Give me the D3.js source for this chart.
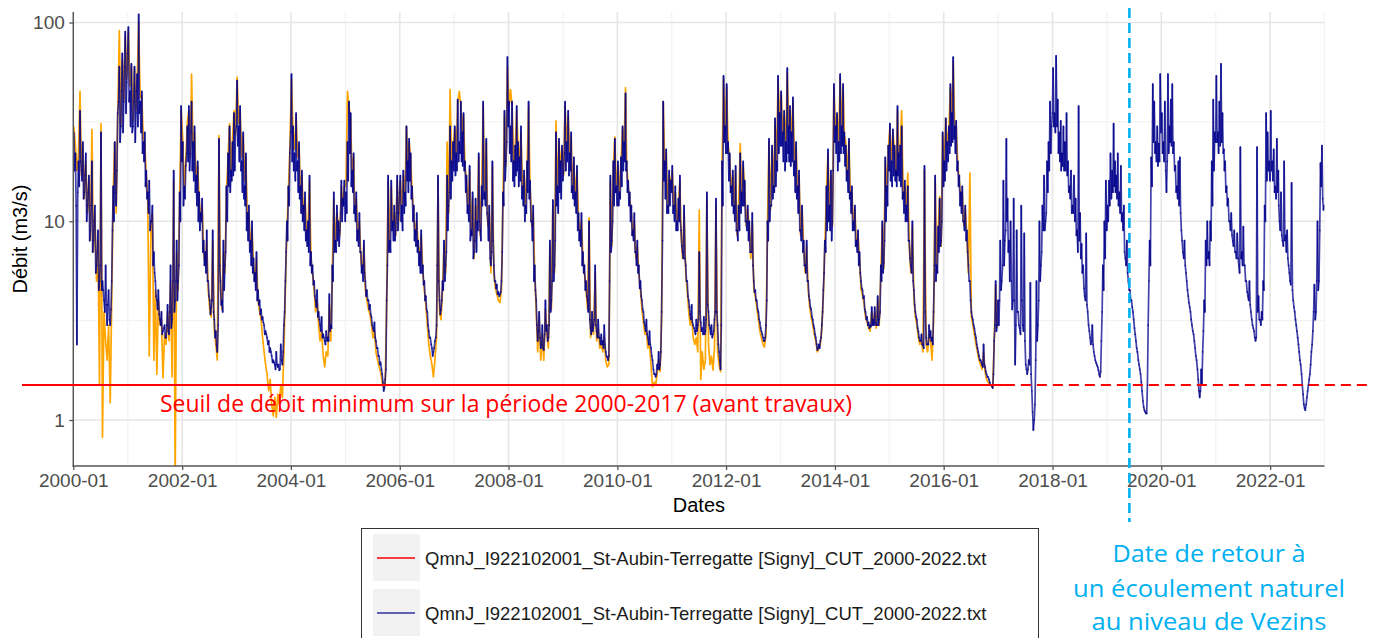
<!DOCTYPE html>
<html>
<head>
<meta charset="utf-8">
<script src="https://cdn.jsdelivr.net/npm/d3@7"></script>
<style>
  body { margin: 0; background: #fff; }
  svg { display: block; }
</style>
</head>
<body>
<svg id="chart" width="1378" height="638"></svg>
<script>
// Débits journaliers relevés trois fois par mois (jours 5, 15, 25), m3/s
const anneeDebut = 2000;

// Série 1 (2000-2016), tracée en orange
const serie1 = [
  [30,24,18,22,45,17,24,13,20,11,16,8,29,7,11,5,8,1.5,31,0.82,3.5,2.5,2,3,1.22,4,14,25,11,33,91,30,65,40,85,52],
  [90,48,60,32,58,36,52,100,42,43,26,25,17,13,2.1,9,11,2,4.5,1.7,4,3,3.2,1.63,2.7,2.4,3.5,2.5,5,1.65,16,0.5,7,4.5,13,36],
  [26,14,20,32,36,21,55,24,28,16,19,13,10,12,7,6,8,4.5,3.6,3.3,8,2.8,2.4,2.0,27,4.5,3.6,7,5.5,14,21,31,17,26,36,27],
  [53,31,36,21,27,16,21,10,11,7.5,9,6,5,6.5,4,3.5,3.2,2.6,2.2,1.9,1.7,1.4,1.6,1.2,1.05,1.3,1.03,1.35,1.2,1.5,1.3,2.2,4.5,9,14,23],
  [52,29,23,34,21,24,14,17,11,13,8.5,9.5,16,6.5,5.5,4.5,3.5,4,3,2.5,2.8,2.1,1.85,2.2,2.1,3.8,2.5,5.5,13,7.5,11,9.5,8.5,15,12,15],
  [15,45,38,33,17,21,11,13,8.5,10,6.5,5.5,7.5,4.5,4,3.6,3.4,3,2.6,2.8,2.2,2,1.85,1.75,1.55,1.47,1.5,3.8,16,7.5,15,9.5,11,8.5,16,10],
  [16,11.5,17,13,30,19,25,21,14,11,8.5,10,7.5,6.5,8.5,5.5,4.5,3.8,3,2.4,2.1,1.9,1.65,2,2.6,16,3.5,3.2,4.5,7.5,5.5,25,11,46,19,24],
  [29,21,40,45,38,27,34,19,16,11.5,18,8.5,13,6.5,12,9.5,21,8.5,14,38,13,25,9.5,11,5.5,19,5.5,4.6,4.3,4,3.9,4.6,13,34,19,60],
  [38,46,38,19,23,36,24,20,28,14,17,11.5,19,38,15,9.5,11,5.5,3.6,2.2,3.2,2.0,2.7,2.0,3.6,2.7,2.3,7.5,3.6,12,5.5,32,14,25,19,23],
  [17,38,24,34,21,27,14,20,13,18,10.5,8.5,10,6.5,5.5,4.5,3.6,10.4,2.6,3.2,2.7,5.5,2.5,2.9,2.3,2.4,2.2,2.6,2,1.85,1.9,16,7.5,19,26.6,14],
  [19,13,20,29,24,47,19,15,13,11,8.5,10,6.5,7.5,5.5,4.5,3.6,3.1,2.7,2.8,2.3,2.4,1.9,1.47,1.55,1.5,1.7,2,1.75,3.2,40,19,22,11.5,17,15],
  [18,11.5,14,9.5,12,16,8.5,6.5,11,5.5,4.5,3.5,3,3.3,2.6,2.4,2.6,2.2,11.4,1.6,2.2,1.8,2,13,2.4,1.9,2.1,1.78,2.3,12,2.2,1.9,1.75,19,52,29],
  [47,24,21,14,17,11.5,18,8.5,11.5,24.6,13,19,15,9.5,11.5,9.5,6.5,10,4.6,4.2,3.7,3.2,2.8,2.6,2.4,2.33,2.7,9.5,25,11.5,23,14,31,19,52,33],
  [44,27,34,24,56,29,36,27,40,19,24,14,17,8.5,11.8,7.5,5.5,7.5,4.6,3.7,3.3,3,2.7,2.5,2.2,2.3,2.4,2.9,4.2,7.5,14,22,11.5,17,9.5,47],
  [29,34,24,53,29,47,27,25,17,25,13,14,9.5,11.5,7.5,8.5,6.5,4.6,4.2,3.9,3.3,3.1,2.9,2.8,3.5,3,3.5,2.9,4,3,5.5,9.5,5.8,20,14,23],
  [30,19,28,23,17,36,21,23,36,13,15,11.5,17.5,7.5,5.5,9.5,4.2,3.3,3,2.6,2.4,2.5,2.2,18,2.4,2.2,2.7,2.5,2.0,3.2,16,5.5,9,13.3,7.5,27],
  [19,33,24,29,47,33,64,29,30,19,16,13,14,9.5,11.5,8.5,5.5,17.5,3.3,3,2.7,2.4,2.2,2,1.9,1.8,2.2,1.75,1.6,1.55,1.5,1.5,1.45,2.4,4.8,2.9]
];

// Série 2 (2000-2022), tracée en bleu : relevés des jours 5, 15, 25
const serie2 = [
  [28,22,2.4,20,36,18,25,14,22,12,17,9,20,8,12,6,9,5,28,5,4,6,3,4.5,3,5,15,25,12,35,60,30,70,40,90,50],
  [95,45,62,30,60,35,55,110,40,45,25,28,18,14,16,10,12,7,5,4,4.5,3.2,3.5,2.8,3,2.6,3.8,2.7,6,3.2,18,4,8,5,14,38],
  [25,15,19,30,38,22,40,25,30,17,20,14,11,13,8,7,9,5,4,3.7,9,3.2,2.8,2.2,26,5,4,8,6,15,22,30,18,25,35,28],
  [51,30,38,20,28,15,22,11,12,8,10,6.5,5.5,7,4.5,4,3.6,3.3,3,2.8,2.6,2.5,2.3,2.1,2.0,1.9,2.2,1.85,1.78,2.4,1.9,3,5,10,15,22],
  [55,30,22,35,20,25,15,18,12,14,9,10,17,7,6,5,4,4.5,3.5,3,3.3,2.7,2.5,2.8,2.6,4.3,3,6,14,8,12,10,9,16,13,16],
  [14,25,40,35,18,22,12,14,9,11,7,6,8,5,4.5,4,3.8,3.3,2.9,3.1,2.5,2.3,2.1,1.95,1.7,1.4,1.6,4,17,8,16,10,12,9,17,11],
  [17,12,18,14,30,20,26,22,15,12,9,11,8,7,9,6,5,4.2,3.5,2.8,2.6,2.3,2.2,2.5,3,17,4,3.6,5,8,6,17,12,30,20,25],
  [30,22,41,25,40,28,35,20,17,12,19,9,14,7,13,10,22,9,15,40,14,26,10,12,6,20,6,5,4.8,4.4,4.3,5,14,36,20,67],
  [40,30,40,20,24,38,25,21,30,15,18,12,20,40,16,10,12,6,4,2.5,3.5,2.3,3,2.25,4,3,2.6,8,4,12.8,6,28,15,26,20,24],
  [18,40,25,36,22,28,15,21,14,19,11,9,11,7,6,5,4,10,2.9,3.5,3,6,2.8,3.2,2.6,2.7,2.5,3,2.2,2.07,2.1,17,8,20,26,15],
  [20,14,21,30,25,44,20,16,14,12,9,11,7,8,6,5,4,3.5,3,3.2,2.6,2.8,2.3,2,1.7,1.65,1.9,2.2,1.9,3.5,40,20,23,12,18,16],
  [19,12,15,10,13,17,9,7,12,6,5,4,3.4,3.8,3,2.8,3.2,3,7,3.1,2.9,3.3,2.8,14,3.5,2.9,3,2.7,3.2,13,3,2.2,1.8,20,54,30],
  [49,25,22,15,18,12,19,9,12,22,14,20,16,10,12,10,7,11,5,4.5,4,3.5,3.1,2.8,2.6,2.5,3,10,26,12,24,15,33,20,54,35],
  [45,28,36,25,59,30,38,28,42,20,25,15,18,9,12,8,6,8,5,4,3.6,3.2,2.9,2.6,2.25,2.4,2.5,3,4.5,8,15,23,12,18,10,49],
  [30,35,25,55,30,49,28,24,18,26,14,15,10,12,8,9,7,5,4.5,4.2,3.5,3.3,3.1,3,3.7,3.2,3.7,3,4.2,3.2,6,10,6.2,21,15,24],
  [31,20,29,24,18,38,22,24,30,14,16,12,15,8,6,10,4.5,3.5,3.2,2.8,2.5,2.7,2.4,19,2.6,2.4,3,2.8,2.6,3.5,17,6,9.4,13,8,28],
  [20,33,25,30,49,35,67,30,32,20,17,14,15,10,12,9,6,5,3.5,3.2,2.9,2.6,2.3,2.1,2,1.9,2.4,1.85,1.7,1.65,1.55,1.5,1.45,2.5,5,3],
  [3,8,5,16,8,26,13,8,10,3.6,13,1.9,9,3.5,2.9,12,3,8.7,1.9,1.7,2,4.9,1.4,0.89,1.2,5,3,10,6,12,17,10,20,25,40,30],
  [59,35,68,41,28,32,22,30,25,35,20,15,18,12,17,13,9,38,11,7.7,6,4.2,8.7,3.5,2.8,2.4,3,2.2,2,1.9,1.78,1.65,2.5,6,10,16],
  [12,16,22,18,31,20,17,22,14,19,11,12,6.5,8,5,4.5,4,3.5,2.9,2.5,2.2,1.9,1.7,1.4,1.16,1.1,1.08,3,8,21,49,40,25,30,24.6,55],
  [35,25,40,14,55,30,41,49,25,19,15,20,21,9,7,8,5.5,4.5,3.9,3.5,3,2.7,2.3,2,1.6,1.3,1.8,2.2,4,8,10,7,10,20,41,28],
  [54,28,40,62,35,23,20,15,13,10,11,8,9,7,8.7,6,23.6,7,9.4,6,5,4.2,5,3.5,3,2.8,2.5,23.6,4.2,3.2,3.5,5,12,35,28,20],
  [36,20,23,15,26,18,10,14,8,20,8.5,9,6,5,15.6,4,3.5,3,2.6,2.2,1.9,1.5,1.2,1.12,1.3,1.5,1.7,2.2,2.8,4.8,3.5,10,5,19.6,24,11.4]
];

// Série 2 : relevés intermédiaires des jours 10, 20 et du dernier jour du mois
const serie2Inter = [
  [18,12,14,15,20,16,13,17,10,14,8,12,7,10,5.5,7,4.5,6,4.5,4.5,3.5,3.8,3.8,3.2,3.6,9,10,14,18,40,25,45,28,60,35,70],
  [40,30,28,40,25,45,30,35,28,22,20,15,13,11,9,10,6,5.5,4.2,3.6,3.4,3,2.7,2.9,2.6,3,2.8,3.5,2.9,5,3.5,5,4,6,10,20],
  [12,13,22,20,18,28,18,16,14,12,10,9,10,7,6,5.5,5,4.2,3.4,4,3.5,2.6,2.4,3,6,3.8,3.5,4.5,7,10,15,14,16,17,18,30],
  [24,20,18,14,13,12,9,8,7,6,5.5,5,4.5,4,3.8,3.4,3.2,3.1,2.7,2.7,2.4,2.2,2.2,1.95,1.95,1.8,1.9,1.9,1.8,2,2.2,3.5,7,8,12,28],
  [20,18,16,18,14,13,11,10,9,8,7.5,7,6,5.5,4.8,4.2,3.7,3.3,3.2,2.8,2.6,2.6,2.4,2.5,2.5,2.8,2.9,5,7,7,8,7.5,11,10,12,10],
  [11,16,22,15,14,11,10,8,7.5,7,5.5,5,5.5,4.2,4,3.6,3.4,3,2.8,2.6,2.3,2.1,1.9,1.8,1.55,1.45,1.8,6,7,7,9,8,8,11,9,14],
  [10,9,11,12,16,14,16,13,10,8,7.5,7,6,5.5,5.5,4.8,4,3.6,3,2.6,2.4,2.1,2.3,2.6,6,5,3.4,4,4.5,5,7,9,14,13,16,18],
  [17,18,20,22,20,19,18,14,11,10,8,8.5,6.5,8,7,9,10,8,12,13,12,11,8,6.5,7,8,5,4.6,4.3,4.2,4.4,7,12,16,25,30],
  [22,20,16,15,17,18,15,16,13,12,10,11,14,13,10,8,5,4.5,3,2.8,2.6,2.4,2.3,2.7,2.8,2.5,3,3.5,5,5,8,12,11,14,13,16],
  [22,18,20,17,18,14,13,12,11,9,8,7.5,6,5.5,4.5,4.2,3.5,3.2,2.7,2.8,3.2,3,2.6,2.6,2.4,2.4,2.3,2.4,2.1,2,5,7,10,12,14,12],
  [12,13,15,18,20,18,14,12,10,8.5,8,7,6,5.5,4.6,4.2,3.6,3.1,2.8,2.7,2.4,2.4,2.1,1.8,1.7,1.7,1.8,1.8,2.2,8,16,13,11,11,12,14],
  [11,10,9,9,10,10,7.5,6.5,6.5,5,4.2,3.7,3.2,3.1,2.9,2.7,2.8,3.2,3.5,2.8,2.7,2.7,3.2,3.8,3,2.7,2.6,2.8,3.5,3.5,2.4,2,3,12,25,22],
  [22,16,14,12,11,10,9,8,9,11,12,12,10,9,8,7,7,6,4.4,4,3.6,3.2,2.9,2.7,2.5,2.6,4,8,10,12,13,14,15,18,22,24],
  [24,20,18,20,22,20,19,20,17,14,13,11,9,8,7,6,5.5,5,4.2,3.7,3.3,3,2.7,2.4,2.3,2.3,2.6,3.5,5.5,7,9,10,9,8,18,25],
  [22,18,20,22,24,22,19,16,14,13,11,9,9,7.5,7,6,5.5,4.6,4.1,3.6,3.2,3,2.9,2.95,3,3,3.1,3,3,3.5,5,5.5,8,10,12,18],
  [16,15,17,16,15,17,16,15,13,11,10,10,8,6.5,5.5,5,3.8,3.3,2.9,2.6,2.5,2.4,2.3,3.5,2.4,2.4,2.6,2.5,2.4,6,5,5.5,7,7.5,10,15],
  [16,18,20,22,24,25,26,22,18,15,12,11,10,9,8,7,5,4,3.3,3,2.7,2.4,2.2,2,1.95,1.85,1.9,1.75,1.65,1.6,1.5,1.48,1.7,3,2.8,4],
  [4,4.5,6,6,9,10,7,5,5,4,4,3,3.5,3,2.7,4,2.8,2.5,1.8,1.8,1.9,1.7,1.1,1,2,2.5,4,5,7,9,9,11,14,18,22,35],
  [30,28,30,22,20,18,19,18,18,17,14,13,11,11,10,8.5,7,8,6.5,5.5,4.6,4,3.8,3,2.6,2.5,2.4,2.1,1.95,1.85,1.7,1.75,3.5,4.5,6.5,9],
  [10,12,13,14,15,14,13,12,11,10,9,7,6,5.5,4.5,4,3.7,3.2,2.7,2.3,2,1.8,1.55,1.25,1.12,1.08,1.5,5,6,15,25,22,20,19,20,28],
  [22,20,18,20,22,25,24,22,18,14,13,12,11,8,6.5,6,5,4.2,3.7,3.2,2.8,2.5,2.1,1.8,1.4,1.4,1.5,2.8,3.5,6,6.5,6,8,12,18,25],
  [25,22,24,25,22,18,14,12,10,9,8.5,7.5,7,6.5,6.5,5.5,6.5,6,6,5,4.4,4,3.8,3.2,2.9,2.6,2.6,3.5,3.2,3,3.2,4.5,10,16,18,16],
  [18,16,14,13,14,12,9,8.5,7.5,8,7,6.5,5.5,4.8,4.5,3.7,3.2,2.8,2.4,2,1.7,1.35,1.15,1.2,1.4,1.6,1.9,2.4,3.5,3.2,5,4.5,9,15,13,12]
];

const yTicks = [1, 10, 100];
const yMinorTicks = [Math.sqrt(10), Math.sqrt(1000)];
const seuilMin = 1.5;                       // seuil de débit minimum 2000-2017
const dateFinAvantTravaux = new Date(Date.UTC(2017, 1, 15));
const dateRetourNaturel = new Date(Date.UTC(2019, 5, 1));
const nomFichier = "QmnJ_I922102001_St-Aubin-Terregatte [Signy]_CUT_2000-2022.txt";
const legendeCouleurs = ["#ff0000", "#00008b"];
const texteSeuil = "Seuil de débit minimum sur la période 2000-2017 (avant travaux)";
const texteRetour = ["Date de retour à", "un écoulement naturel", "au niveau de Vezins"];

// Dates des relevés : jours 5, 15, 25 puis jours 10, 20 et fin de mois
function dateReleve(annee, i) {
  const mois = Math.floor(i / 3);
  return new Date(Date.UTC(annee, mois, [5, 15, 25][i % 3]));
}
function dateInter(annee, i) {
  const mois = Math.floor(i / 3);
  return i % 3 === 2
    ? new Date(Date.UTC(annee, mois + 1, 0))
    : new Date(Date.UTC(annee, mois, [10, 20][i % 3]));
}
function versPoints(serie, inter) {
  const pts = [];
  serie.forEach((valeurs, a) => {
    valeurs.forEach((v, i) => {
      pts.push({ date: dateReleve(anneeDebut + a, i), q: v });
      if (inter) pts.push({ date: dateInter(anneeDebut + a, i), q: inter[a][i] });
    });
  });
  return pts;
}
const pts1 = versPoints(serie1, null);
const pts2 = versPoints(serie2, serie2Inter);

const svg = d3.select("#chart");
const W = 1378, H = 638;
const panel = { left: 73.3, right: 1324.5, top: 12, bottom: 466 };

const x = d3.scaleUtc()
  .domain([new Date(Date.UTC(2000, 0, 1)), new Date(Date.UTC(2023, 0, 1))])
  .range([panel.left, panel.right]);
const y = d3.scaleLog()
  .domain([0.587, 113])
  .range([panel.bottom, panel.top]);

svg.append("rect").attr("width", W).attr("height", H).attr("fill", "#fff");

svg.append("defs").append("clipPath").attr("id", "clipPanel")
  .append("rect")
  .attr("x", panel.left).attr("y", panel.top)
  .attr("width", panel.right - panel.left).attr("height", panel.bottom - panel.top);

// Grille
const grid = svg.append("g");
const majorYears = d3.utcYear.every(2).range(new Date(Date.UTC(2000, 0, 1)), new Date(Date.UTC(2023, 0, 2)));
const minorYears = d3.utcYear.range(new Date(Date.UTC(2000, 0, 1)), new Date(Date.UTC(2023, 0, 2)))
  .filter(d => d.getUTCFullYear() % 2 === 1);

grid.selectAll(".ymin").data(yMinorTicks).join("line")
  .attr("x1", panel.left).attr("x2", panel.right)
  .attr("y1", d => y(d)).attr("y2", d => y(d))
  .attr("stroke", "#f3f3f3").attr("stroke-width", 1.2);
grid.selectAll(".xmin").data(minorYears).join("line")
  .attr("x1", d => x(d)).attr("x2", d => x(d))
  .attr("y1", panel.top).attr("y2", panel.bottom)
  .attr("stroke", "#f3f3f3").attr("stroke-width", 1.2);
grid.selectAll(".ymaj").data(yTicks).join("line")
  .attr("x1", panel.left).attr("x2", panel.right)
  .attr("y1", d => y(d)).attr("y2", d => y(d))
  .attr("stroke", "#e6e6e6").attr("stroke-width", 1.6);
grid.selectAll(".xmaj").data(majorYears).join("line")
  .attr("x1", d => x(d)).attr("x2", d => x(d))
  .attr("y1", panel.top).attr("y2", panel.bottom)
  .attr("stroke", "#e6e6e6").attr("stroke-width", 1.6);

// Séries
const plot = svg.append("g").attr("clip-path", "url(#clipPanel)");
const line = d3.line().x(d => x(d.date)).y(d => y(d.q));

plot.append("path").datum(pts1)
  .attr("d", line)
  .attr("fill", "none")
  .attr("stroke", "#ffa500")
  .attr("stroke-width", 1.7)
  .attr("stroke-linejoin", "round");

// Segments tracés séparément pour que les recouvrements foncent le bleu transparent
const segs = d3.pairs(pts2);
plot.append("g").selectAll("line").data(segs).join("line")
  .attr("x1", d => x(d[0].date)).attr("y1", d => y(d[0].q))
  .attr("x2", d => x(d[1].date)).attr("y2", d => y(d[1].q))
  .attr("stroke", "#00008b")
  .attr("stroke-opacity", 0.74)
  .attr("stroke-width", 1.7)
  .attr("stroke-linecap", "round");

// Axes
const axisColor = "#555555";
const gx = svg.append("g").attr("transform", `translate(0,${panel.bottom})`)
  .call(d3.axisBottom(x).tickValues(majorYears).tickFormat(d3.utcFormat("%Y-%m")).tickSize(4).tickPadding(3.5));
const gy = svg.append("g").attr("transform", `translate(${panel.left},0)`)
  .call(d3.axisLeft(y).tickValues(yTicks).tickFormat(d3.format("d")).tickSize(4).tickPadding(4.5));
[gx, gy].forEach(g => {
  g.select(".domain").remove();
  g.selectAll(".tick line").attr("stroke", axisColor).attr("stroke-width", 1.3);
  g.selectAll(".tick text")
    .attr("fill", "#4d4d4d")
    .style("font-family", "'Liberation Sans', Arial, sans-serif")
    .style("font-size", "19px");
});
svg.append("line")
  .attr("x1", panel.left).attr("x2", panel.left)
  .attr("y1", panel.top).attr("y2", panel.bottom + 0.7)
  .attr("stroke", axisColor).attr("stroke-width", 1.4);
svg.append("line")
  .attr("x1", panel.left - 0.7).attr("x2", panel.right)
  .attr("y1", panel.bottom).attr("y2", panel.bottom)
  .attr("stroke", axisColor).attr("stroke-width", 1.4);

// Titres d'axes
svg.append("text")
  .attr("transform", `translate(27,${(panel.top + panel.bottom) / 2}) rotate(-90)`)
  .attr("text-anchor", "middle")
  .style("font-family", "'Liberation Sans', Arial, sans-serif")
  .style("font-size", "20px")
  .attr("fill", "#000")
  .text("Débit (m3/s)");
svg.append("text")
  .attr("x", (panel.left + panel.right) / 2).attr("y", 512)
  .attr("text-anchor", "middle")
  .style("font-family", "'Liberation Sans', Arial, sans-serif")
  .style("font-size", "20px")
  .attr("fill", "#000")
  .text("Dates");

// Seuil minimum : trait plein jusqu'aux travaux, pointillés ensuite
const ySeuil = y(seuilMin);
svg.append("line")
  .attr("x1", 22).attr("x2", x(dateFinAvantTravaux))
  .attr("y1", ySeuil).attr("y2", ySeuil)
  .attr("stroke", "#ff0000").attr("stroke-width", 2);
svg.append("line")
  .attr("x1", x(dateFinAvantTravaux)).attr("x2", 1370)
  .attr("y1", ySeuil).attr("y2", ySeuil)
  .attr("stroke", "#ff0000").attr("stroke-width", 2.2)
  .attr("stroke-dasharray", "10 6");
svg.append("text")
  .attr("x", 160).attr("y", 412)
  .attr("textLength", 692)
  .attr("lengthAdjust", "spacingAndGlyphs")
  .style("font-family", "'Open Sans', Lato, sans-serif")
  .style("font-size", "23px")
  .attr("fill", "#ff0000")
  .text(texteSeuil);

// Date de retour à un écoulement naturel
const xRetour = x(dateRetourNaturel);
svg.append("line")
  .attr("x1", xRetour).attr("x2", xRetour)
  .attr("y1", 8).attr("y2", 522)
  .attr("stroke", "#00b0f0").attr("stroke-width", 2.6)
  .attr("stroke-dasharray", "10 5");
const largeursRetour = [193, 272, 235];
const basesRetour = [562, 597, 630];
texteRetour.forEach((t, i) => {
  svg.append("text")
    .attr("x", 1209).attr("y", basesRetour[i])
    .attr("text-anchor", "middle")
    .attr("textLength", largeursRetour[i])
    .attr("lengthAdjust", "spacingAndGlyphs")
    .style("font-family", "'Open Sans', Lato, sans-serif")
    .style("font-size", "23px")
    .attr("fill", "#00b0f0")
    .text(t);
});

// Légende
const leg = svg.append("g");
leg.append("rect")
  .attr("x", 361.5).attr("y", 528.5)
  .attr("width", 677).attr("height", 120)
  .attr("fill", "#fff").attr("stroke", "#333").attr("stroke-width", 1);
legendeCouleurs.forEach((c, i) => {
  const y0 = 534 + i * 55;
  leg.append("rect")
    .attr("x", 373).attr("y", y0).attr("width", 47).attr("height", 47)
    .attr("fill", "#f2f2f2");
  leg.append("line")
    .attr("x1", 377).attr("x2", 415)
    .attr("y1", y0 + 24).attr("y2", y0 + 24)
    .attr("stroke", c)
    .attr("stroke-opacity", i === 0 ? 1 : 0.6)
    .attr("stroke-width", i === 0 ? 1.3 : 2);
  leg.append("text")
    .attr("x", 425).attr("y", y0 + 31)
    .style("font-family", "'Liberation Sans', Arial, sans-serif")
    .style("font-size", "18.5px")
    .attr("fill", "#1a1a1a")
    .text(nomFichier);
});
</script>
</body>
</html>
